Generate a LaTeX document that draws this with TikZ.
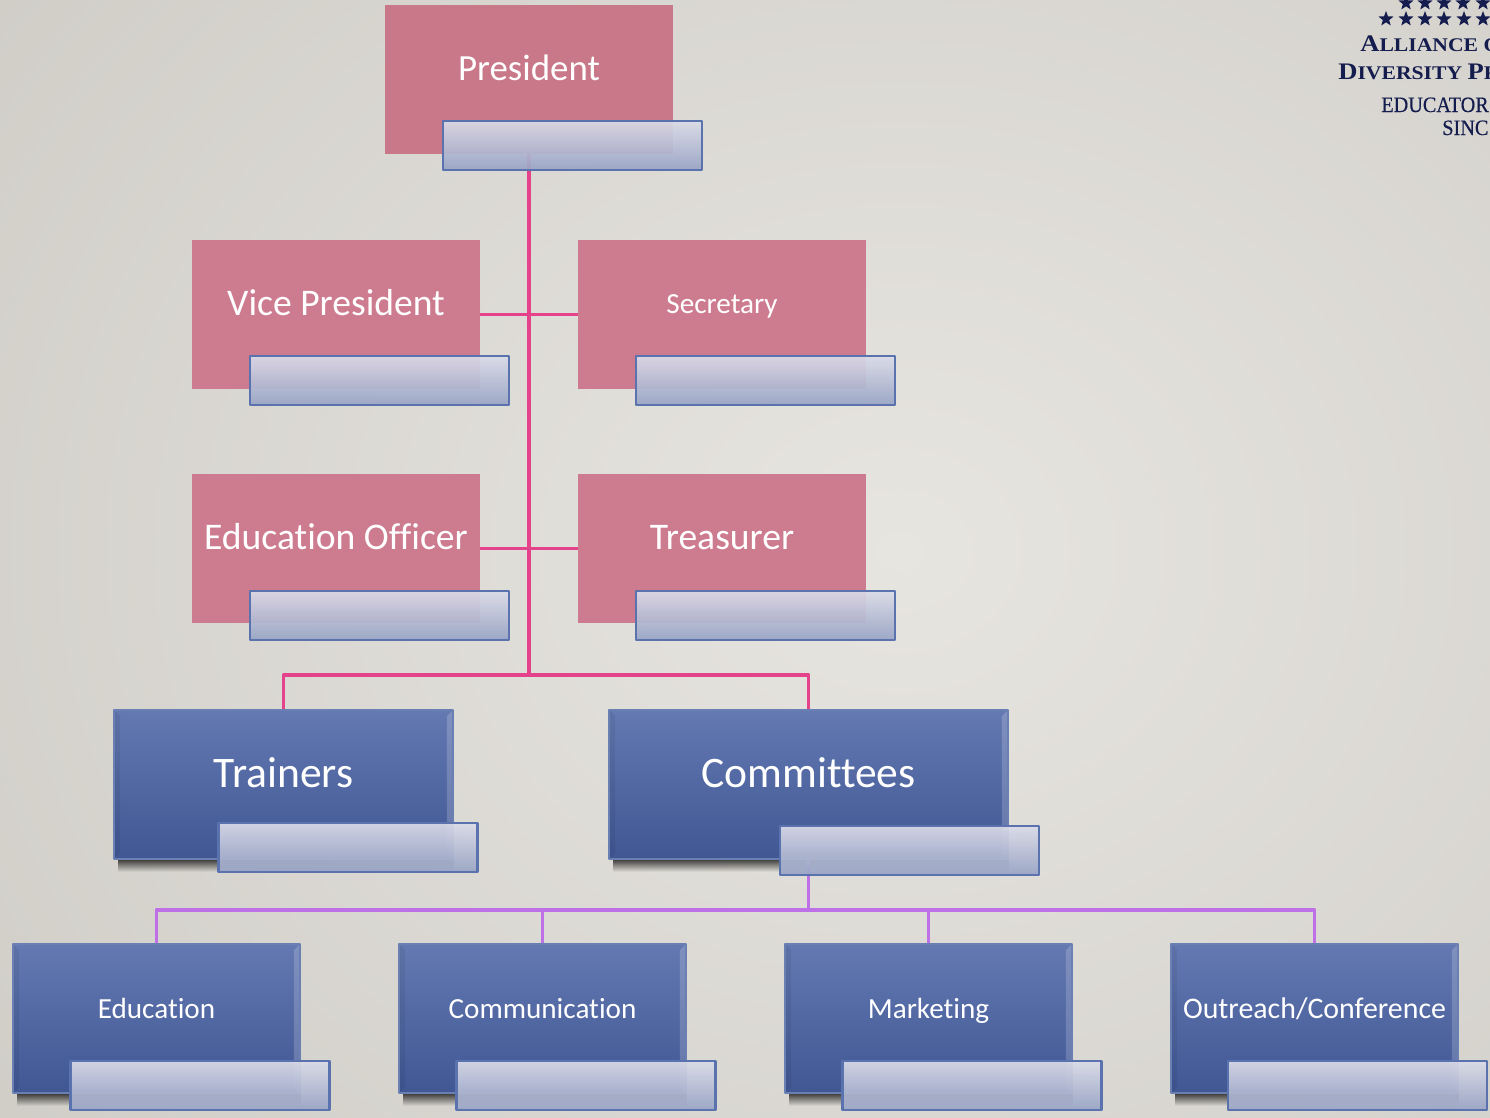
\documentclass[tikz,border=0pt]{standalone}
\usepackage{fontspec}
\setmainfont[Ligatures=NoCommon]{Carlito}
\newfontfamily\logofont[FakeStretch=1.12]{Liberation Serif}
\newfontfamily\logosmall[FakeStretch=0.92,FakeBold=0.3]{Liberation Serif}
\usetikzlibrary{shapes.geometric,fadings}
\definecolor{tabline}{HTML}{5A72AE}
\definecolor{pinkline}{HTML}{E5428C}
\definecolor{purpleline}{HTML}{BE70E6}
\definecolor{logoblue}{HTML}{141D4D}
\definecolor{PinkFill}{HTML}{CD7C8F}
\definecolor{PinkTop}{HTML}{C97889}
\definecolor{BoxLine}{HTML}{6A80B2}
\definecolor{BoxTop}{HTML}{6479B2}
\definecolor{BoxBottom}{HTML}{405794}
\definecolor{TabTop}{HTML}{DADBE8}
\definecolor{TabBottom}{HTML}{98A4C5}
\definecolor{BackInner}{HTML}{E7E5E0}
\definecolor{BackOuter}{HTML}{CDCAC4}
\tikzset{
	pinkbox/.style={rectangle, fill=PinkFill, minimum width=5.76cm, minimum height=2.98cm, inner sep=0pt, text=white, text height=10.4pt, text depth=9.7pt, font=\fontsize{21.4}{25}\selectfont},
	smallpink/.style={text height=9.6pt, text depth=10.6pt, font=\fontsize{16.6}{20}\selectfont},
	bluebox/.style={rectangle, draw=BoxLine, line width=0.8pt, top color=BoxTop, bottom color=BoxBottom, inner sep=0pt, minimum height=2.98cm, text=white, text height=11.5pt, text depth=8.5pt, font=\fontsize{24.8}{29}\selectfont,
		path picture={
			\fill[white, opacity=0.18] (path picture bounding box.north east) -- ++(-0.12cm,-0.12cm) |- ([xshift=-0.12cm,yshift=0.12cm]path picture bounding box.south east) -- (path picture bounding box.south east) -- cycle;
			\fill[black, opacity=0.06] (path picture bounding box.north west) -- ++(0.12cm,-0.12cm) |- ([xshift=0.12cm,yshift=0.12cm]path picture bounding box.south west) -- (path picture bounding box.south west) -- cycle;
		}},
	smallblue/.style={minimum width=5.74cm, text height=10.3pt, text depth=10.3pt, font=\fontsize{16.6}{20}\selectfont},
	dropshade/.style={fill=black, opacity=0.7, path fading=south},
	tabbox/.style={rectangle, draw=tabline, line width=1.2pt, top color=TabTop, bottom color=TabBottom, fill opacity=0.93, draw opacity=1, minimum width=5.18cm, minimum height=0.98cm, inner sep=0pt},
	pinkwire/.style={draw=pinkline, line width=1.9pt},
	purplewire/.style={draw=purpleline, line width=1.9pt},
	logostar/.style={star, star points=5, star point ratio=2.4, fill=logoblue, minimum size=0.32cm, inner sep=0pt}
}
\begin{document}
\begin{tikzpicture}[x=0.02cm, y=-0.02cm, line join=round]
	\useasboundingbox (0,0) rectangle (1490,1117);
	% Background
	\begin{scope}
		\clip (0,0) rectangle (1490,1117);
		\shade[inner color=BackInner, outer color=BackOuter] (-400,-550) rectangle (2200,1650);
	\end{scope}
	% Officers
	\node[pinkbox, fill=PinkTop, font=\fontsize{21}{25}\selectfont] (president) at (529,79.5) {President};
	\node[pinkbox] (vicepresident) at (336,314.5) {Vice President};
	\node[pinkbox, smallpink] (secretary) at (722,314.5) {Secretary};
	\node[pinkbox] (educationofficer) at (336,548.5) {Education Officer};
	\node[pinkbox] (treasurer) at (722,548.5) {Treasurer};
	% Trainers, committees
	\node[bluebox, minimum width=6.78cm] (trainers) at (283.5,784.5) {Trainers};
	\node[bluebox, minimum width=7.98cm] (committees) at (808.5,784.5) {Committees};
	\node[bluebox, smallblue] (education) at (156.5,1018.5) {Education};
	\node[bluebox, smallblue] (communication) at (542.5,1018.5) {Communication};
	\node[bluebox, smallblue] (marketing) at (928.5,1018.5) {Marketing};
	\node[bluebox, smallblue, font=\fontsize{17}{20}\selectfont] (outreach) at (1314.5,1018.5) {Outreach/Conference};
	\foreach \n in {trainers,committees,education,communication,marketing,outreach}
		\fill[dropshade] ([xshift=0.1cm]\n.south west) rectangle ([yshift=-0.24cm]\n.south east);
	% Wires
	\coordinate (trunk) at (529,675);
	\coordinate (bus) at (808.5,910);
	\draw[pinkwire] (president.south) -- (trunk);
	\draw[pinkwire] (vicepresident.east) -- (secretary.west);
	\draw[pinkwire] (educationofficer.east) -- (treasurer.west);
	\draw[pinkwire] (trainers.north) |- (trunk) -| (committees.north);
	\draw[purplewire] (committees.south) -- (bus);
	\draw[purplewire] (education.north) |- (bus) -| (outreach.north);
	\draw[purplewire] (communication.north) -- (communication.north |- bus);
	\draw[purplewire] (marketing.north) -- (marketing.north |- bus);
	% Empty tabs
	\node[tabbox] (presidenttab) at (572.5,145.5) {};
	\node[tabbox] (vicepresidenttab) at (379.5,380.5) {};
	\node[tabbox] (secretarytab) at (765.5,380.5) {};
	\node[tabbox] (educationofficertab) at (379.5,615.5) {};
	\node[tabbox] (treasurertab) at (765.5,615.5) {};
	\node[tabbox] (trainerstab) at (348,847.5) {};
	\node[tabbox] (committeestab) at (909.5,850.5) {};
	\node[tabbox] (educationtab) at (200,1085.5) {};
	\node[tabbox] (communicationtab) at (586,1085.5) {};
	\node[tabbox] (marketingtab) at (972,1085.5) {};
	\node[tabbox] (outreachtab) at (1357.5,1085.5) {};
	% Logo
	\begin{scope}
		\clip (0,0) rectangle (1490,1117);
		\foreach \sx [count=\si] in {1406,1425,1444,1463,1483}
			\node[logostar] (stara\si) at (\sx,3) {};
		\foreach \sx [count=\si] in {1386,1406,1425,1444,1464,1483}
			\node[logostar] (starb\si) at (\sx,19) {};
		\node[anchor=base west, inner sep=0pt, text=logoblue, font=\logofont\bfseries] (logoa) at (1360,51) {\fontsize{13.5}{16}\selectfont A\fontsize{11}{16}\selectfont LLIANCE O};
		\node[anchor=base west, inner sep=0pt, text=logoblue, font=\logofont\bfseries] (logob) at (1338,79) {\fontsize{13.5}{16}\selectfont D\fontsize{11}{16}\selectfont IVERSITY \fontsize{13.5}{16}\selectfont P\fontsize{11}{16}\selectfont R};
		\node[anchor=base west, inner sep=0pt, text=logoblue, font=\logosmall] (logoc) at (1381,112) {\fontsize{12.5}{14}\selectfont EDUCATOR};
		\node[anchor=base west, inner sep=0pt, text=logoblue, font=\logosmall] (logod) at (1442,135) {\fontsize{12.5}{14}\selectfont SINC};
	\end{scope}
\end{tikzpicture}
\end{document}
